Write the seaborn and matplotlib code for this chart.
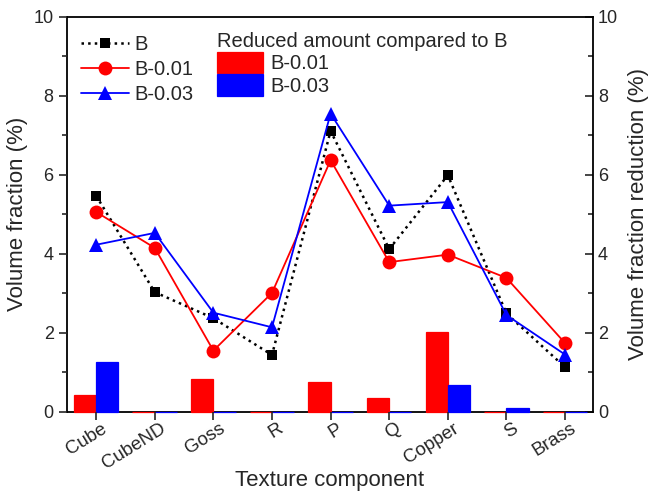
import matplotlib
matplotlib.use("Agg")
import matplotlib.pyplot as plt
import matplotlib.transforms as mtransforms
import numpy as np
import pandas as pd
import seaborn as sns

components = ["Cube", "CubeND", "Goss", "R", "P", "Q", "Copper", "S", "Brass"]
vf_B = [5.47, 3.03, 2.37, 1.44, 7.11, 4.12, 5.99, 2.49, 1.13]
vf_B001 = [5.06, 4.15, 1.55, 3.01, 6.37, 3.79, 3.98, 3.39, 1.74]
vf_B003 = [4.23, 4.53, 2.51, 2.14, 7.55, 5.22, 5.31, 2.45, 1.45]
red_B001 = [0.42, 0.0, 0.83, 0.0, 0.75, 0.35, 2.03, 0.0, 0.0]
red_B003 = [1.25, 0.0, 0.0, 0.0, 0.0, 0.0, 0.69, 0.1, 0.0]

sns.set_style("ticks")
plt.rcParams['font.family'] = ['Liberation Sans', 'DejaVu Sans']

lines = pd.DataFrame({
    "component": components * 3,
    "value": vf_B + vf_B001 + vf_B003,
    "sample": ["B"] * 9 + ["B-0.01"] * 9 + ["B-0.03"] * 9,
})
bars = pd.DataFrame({
    "component": components * 2,
    "value": red_B001 + red_B003,
    "sample": ["B-0.01"] * 9 + ["B-0.03"] * 9,
})

fig = plt.figure(figsize=(6.49, 4.95), dpi=100)
ax = fig.add_axes([0.103, 0.168, 0.811, 0.798])
ax2 = ax.twinx()

# bars on the right axis (reduction)
sns.barplot(data=bars, x="component", y="value", hue="sample", order=components,
            palette=["#ff0000", "#0000ff"], width=0.76, gap=0, ax=ax2,
            linewidth=0.9, saturation=1)
for p in ax2.patches:
    p.set_edgecolor(p.get_facecolor())
    p.set_zorder(3)
    p.set_clip_on(False)

# lines on the left axis
cols = {"B": "black", "B-0.01": "#ff0000", "B-0.03": "#0000ff"}
mk = {"B": "s", "B-0.01": "o", "B-0.03": "^"}
ms = {"B": 7.5, "B-0.01": 10, "B-0.03": 10}
ls = {"B": ":", "B-0.01": "-", "B-0.03": "-"}
for name in ["B", "B-0.01", "B-0.03"]:
    sub = lines[lines["sample"] == name]
    sns.lineplot(data=sub, x="component", y="value", color=cols[name],
                 marker=mk[name], linestyle=ls[name], markersize=ms[name],
                 markeredgewidth=0, linewidth=1.8 if name == "B" else 1.3,
                 label=name, ax=ax, sort=False)

ax.set_zorder(ax2.get_zorder() + 1)
ax.patch.set_visible(False)

for a in (ax, ax2):
    a.set_ylim(0, 10)
    a.set_xlim(-0.5, 8.48)
    a.set_yticks(np.arange(0, 11, 2))
    a.set_yticks(np.arange(1, 10, 2), minor=True)
for s in ax.spines.values():
    s.set_visible(False)
for s in ax2.spines.values():
    s.set_visible(True)
    s.set_linewidth(1.3)
    s.set_color("black")

ax.tick_params(axis="y", which="major", direction="out", length=6, width=1.2, labelsize=13)
ax.tick_params(axis="y", which="minor", direction="out", length=3.5, width=1.2)
ax2.tick_params(axis="y", which="major", direction="in", length=6, width=1.2, labelsize=13)
ax2.tick_params(axis="y", which="minor", direction="in", length=3.5, width=1.2)
ax.tick_params(axis="x", direction="out", length=6, width=1.2, labelsize=13.5, pad=5)
ax2.tick_params(axis="x", bottom=False, labelbottom=False)
ax.set_xticks(range(len(components)))
ax.set_xticklabels(components, rotation=32, ha="right", va="center", rotation_mode="anchor")
shift = mtransforms.ScaledTranslation(7 / 72, 0, fig.dpi_scale_trans)
for lab in ax.get_xticklabels():
    lab.set_transform(lab.get_transform() + shift)

ax.set_xlabel("Texture component", fontsize=16)
ax.xaxis.set_label_coords(0.5, -0.148)
ax.set_ylabel("Volume fraction (%)", fontsize=16, labelpad=4)
ax2.set_ylabel("Volume fraction reduction (%)", fontsize=16, labelpad=7)

ax.legend(loc="upper left", bbox_to_anchor=(0.0, 0.99), frameon=False, fontsize=14.5,
          handlelength=2.4, labelspacing=0.3, handletextpad=0.25, borderaxespad=0.3)
ax2.legend(loc="upper left", bbox_to_anchor=(0.25, 1.008), frameon=False, fontsize=14.5,
           title="Reduced amount compared to B", title_fontsize=14.5,
           handlelength=2.3, handleheight=1.25, labelspacing=0.05, handletextpad=0.35,
           alignment="left")

fig.savefig("out.png", dpi=100)
